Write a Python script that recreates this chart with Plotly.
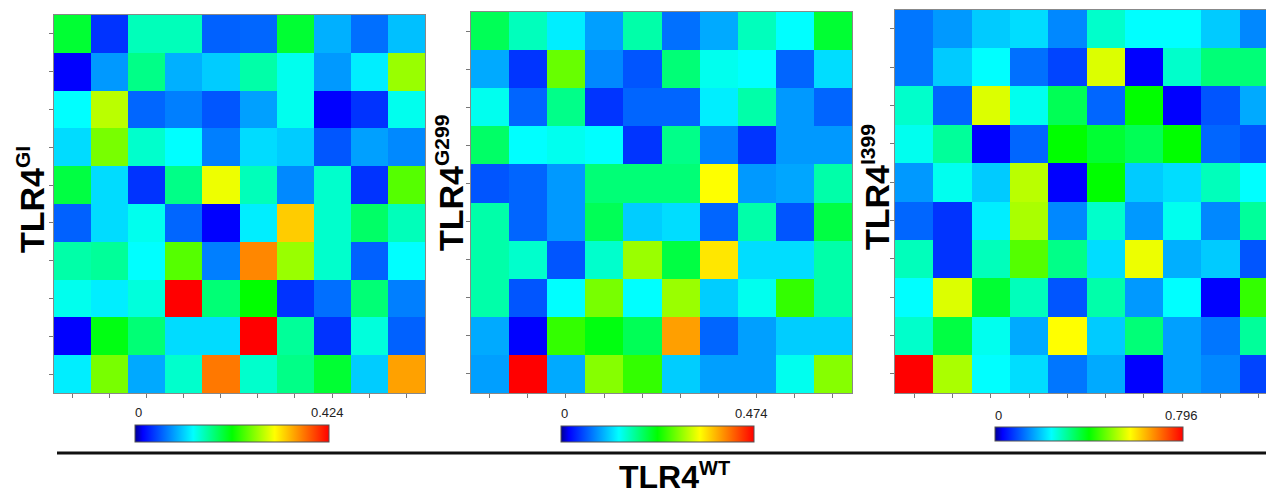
import plotly.graph_objects as go

cols = list(range(1, 11))
rows = list(range(1, 11))

panel_names = ["TLR4", "TLR4", "TLR4"]
panel_sups = ["GI", "G299", "I399"]
x_title_name = "TLR4"
x_title_sup = "WT"
cbar_min = [0, 0, 0]
cbar_max = [0.424, 0.474, 0.796]
cbar_min_text = ["0", "0", "0"]
cbar_max_text = ["0.424", "0.474", "0.796"]

z_gi = [
    [0.195, 0.039, 0.150, 0.150, 0.059, 0.061, 0.195, 0.093, 0.065, 0.100],
    [0.017, 0.083, 0.167, 0.093, 0.105, 0.156, 0.133, 0.083, 0.120, 0.268],
    [0.127, 0.280, 0.061, 0.072, 0.054, 0.086, 0.133, 0.017, 0.039, 0.133],
    [0.112, 0.256, 0.144, 0.127, 0.072, 0.112, 0.105, 0.054, 0.086, 0.076],
    [0.190, 0.112, 0.039, 0.167, 0.299, 0.150, 0.076, 0.144, 0.039, 0.243],
    [0.059, 0.112, 0.133, 0.061, 0.017, 0.120, 0.329, 0.144, 0.178, 0.150],
    [0.156, 0.161, 0.127, 0.243, 0.072, 0.361, 0.268, 0.144, 0.059, 0.127],
    [0.133, 0.120, 0.139, 0.424, 0.173, 0.212, 0.039, 0.065, 0.173, 0.072],
    [0.017, 0.206, 0.173, 0.112, 0.112, 0.424, 0.161, 0.039, 0.139, 0.059],
    [0.120, 0.256, 0.090, 0.144, 0.368, 0.144, 0.167, 0.195, 0.105, 0.349],
]

z_g299 = [
    [0.205, 0.167, 0.134, 0.096, 0.174, 0.073, 0.101, 0.167, 0.142, 0.218],
    [0.101, 0.044, 0.279, 0.085, 0.060, 0.193, 0.148, 0.142, 0.068, 0.126],
    [0.148, 0.068, 0.186, 0.044, 0.068, 0.068, 0.134, 0.174, 0.093, 0.068],
    [0.199, 0.142, 0.148, 0.142, 0.044, 0.186, 0.081, 0.044, 0.093, 0.093],
    [0.060, 0.068, 0.093, 0.193, 0.193, 0.193, 0.341, 0.093, 0.099, 0.174],
    [0.174, 0.068, 0.093, 0.205, 0.118, 0.126, 0.068, 0.174, 0.060, 0.212],
    [0.174, 0.161, 0.060, 0.161, 0.300, 0.212, 0.354, 0.126, 0.126, 0.174],
    [0.174, 0.060, 0.142, 0.286, 0.142, 0.300, 0.118, 0.148, 0.258, 0.174],
    [0.101, 0.019, 0.258, 0.231, 0.205, 0.391, 0.068, 0.096, 0.118, 0.118],
    [0.096, 0.474, 0.101, 0.292, 0.258, 0.118, 0.096, 0.096, 0.148, 0.292],
]

z_i399 = [
    [0.128, 0.156, 0.197, 0.211, 0.142, 0.271, 0.239, 0.239, 0.197, 0.142],
    [0.128, 0.197, 0.239, 0.123, 0.087, 0.549, 0.032, 0.271, 0.324, 0.324],
    [0.271, 0.115, 0.549, 0.249, 0.345, 0.115, 0.398, 0.032, 0.101, 0.170],
    [0.249, 0.302, 0.032, 0.115, 0.398, 0.366, 0.345, 0.398, 0.115, 0.101],
    [0.156, 0.249, 0.197, 0.526, 0.032, 0.398, 0.197, 0.211, 0.281, 0.239],
    [0.115, 0.073, 0.225, 0.515, 0.142, 0.271, 0.156, 0.249, 0.142, 0.302],
    [0.281, 0.073, 0.281, 0.456, 0.313, 0.211, 0.561, 0.174, 0.197, 0.101],
    [0.239, 0.549, 0.366, 0.281, 0.101, 0.292, 0.156, 0.239, 0.032, 0.433],
    [0.271, 0.356, 0.249, 0.170, 0.573, 0.197, 0.324, 0.162, 0.128, 0.302],
    [0.796, 0.515, 0.239, 0.211, 0.128, 0.170, 0.032, 0.162, 0.142, 0.087],
]

W, H = 1266, 497
jet = [[0.0, "#000090"], [0.04, "#0000ff"], [0.30, "#00ffff"],
       [0.50, "#00ff00"], [0.72, "#ffff00"], [1.0, "#ff0000"]]

def px(x):
    return x / W

def py(y):
    return 1 - y / H

def sup_label(name, sup, sup_size):
    return ("<b>" + name + "<sup><span style='font-size:%dpx'>" % sup_size
            + sup + "</span></sup></b>")

# layout geometry (pixels)
panels = [
    dict(x0=53.5, x1=425, y0=15, y1=393, xr=[0.5, 10.5], mirror=True),
    dict(x0=470.5, x1=852, y0=12, y1=393, xr=[0.5, 10.5], mirror=True),
    dict(x0=895, x1=1266, y0=9.5, y1=393, xr=[0.5, 10.19], mirror=False),
]
cbars = [
    dict(x0=135, x1=329, y0=424.5, thick=17),
    dict(x0=561, x1=754, y0=425.5, thick=16),
    dict(x0=995, x1=1183, y0=427, thick=14),
]
label_pos = [(31, 200), (450, 183), (876, 187)]
zs = [z_gi, z_g299, z_i399]

fig = go.Figure()
annotations = []
layout = {}
for i, (z, p, cb) in enumerate(zip(zs, panels, cbars)):
    n = "" if i == 0 else str(i + 1)
    fig.add_trace(go.Heatmap(
        z=z, x=cols, y=rows, zmin=cbar_min[i], zmax=cbar_max[i],
        colorscale=jet, xaxis="x" + n, yaxis="y" + n,
        colorbar=dict(
            orientation="h", x=px((cb["x0"] + cb["x1"]) / 2), xanchor="center",
            y=py(cb["y0"]), yanchor="top", len=(cb["x1"] - cb["x0"]) / W,
            lenmode="fraction", thickness=cb["thick"], thicknessmode="pixels",
            xpad=0, ypad=0, outlinewidth=1, outlinecolor="#555555",
            showticklabels=False, ticks="",
        ),
    ))
    layout["xaxis" + n] = dict(
        domain=[px(p["x0"]), px(p["x1"])], range=p["xr"], anchor="y" + n,
        showticklabels=False, ticks="outside", ticklen=4, tickcolor="#777777",
        tickvals=cols, showgrid=False, zeroline=False,
        showline=True, linecolor="#888888", linewidth=1, mirror=True,
    )
    layout["yaxis" + n] = dict(
        domain=[py(p["y1"]), py(p["y0"])], range=[10.5, 0.5], anchor="x" + n,
        showticklabels=False, ticks="outside", ticklen=4, tickcolor="#777777",
        tickvals=rows, showgrid=False, zeroline=False,
        showline=True, linecolor="#888888", linewidth=1, mirror=p["mirror"],
    )
    lx, ly = label_pos[i]
    annotations.append(dict(
        text=sup_label(panel_names[i], panel_sups[i], 21), x=px(lx), y=py(ly),
        xref="paper", yref="paper", textangle=-90, showarrow=False,
        xanchor="center", yanchor="middle",
        font=dict(family="Liberation Sans, Arial", size=34, color="#000000"),
    ))
    annotations.append(dict(
        text=cbar_min_text[i], x=px(cb["x0"] + 3), y=py(cb["y0"] - 12),
        xref="paper", yref="paper", showarrow=False,
        xanchor="center", yanchor="middle",
        font=dict(family="Liberation Sans, Arial", size=13, color="#222222"),
    ))
    annotations.append(dict(
        text=cbar_max_text[i], x=px(cb["x1"] - 2), y=py(cb["y0"] - 12),
        xref="paper", yref="paper", showarrow=False,
        xanchor="center", yanchor="middle",
        font=dict(family="Liberation Sans, Arial", size=13, color="#222222"),
    ))

annotations.append(dict(
    text=sup_label(x_title_name, x_title_sup, 20), x=px(674), y=py(497),
    xref="paper", yref="paper", showarrow=False,
    xanchor="center", yanchor="bottom",
    font=dict(family="Liberation Sans, Arial", size=32, color="#000000"),
))

fig.update_layout(
    width=W, height=H, margin=dict(l=0, r=0, t=0, b=0),
    paper_bgcolor="white", plot_bgcolor="white",
    annotations=annotations,
    shapes=[dict(type="line", xref="paper", yref="paper",
                 x0=px(57), x1=1.0, y0=py(453), y1=py(453),
                 line=dict(color="#111111", width=3))],
    **layout,
)

fig.write_html("out.html", config={"displayModeBar": False},
               post_script="document.body.style.margin='0';document.body.style.overflow='hidden';")
